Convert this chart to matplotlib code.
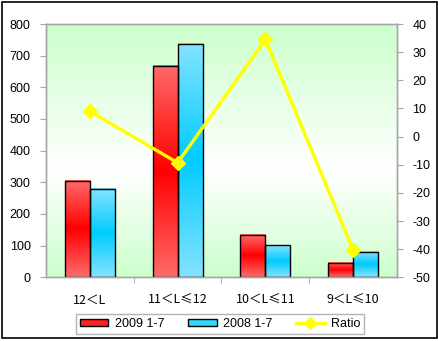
import matplotlib
matplotlib.use('Agg')
import matplotlib.pyplot as plt
import numpy as np
from matplotlib.colors import LinearSegmentedColormap
from matplotlib.patches import Rectangle, Patch
from matplotlib.lines import Line2D

plt.rcParams['axes.unicode_minus'] = False
plt.rcParams['font.family'] = ['Liberation Sans', 'DejaVu Sans']

categories = ['12＜L', '11＜L≤12', '10＜L≤11', '9＜L≤10']
sales_2009 = [305, 668, 134, 46]
sales_2008 = [280, 736, 101, 79]
ratio = [9.0, -9.3, 34.5, -40.2]
left_ticks = [0, 100, 200, 300, 400, 500, 600, 700, 800]
right_ticks = [-50, -40, -30, -20, -10, 0, 10, 20, 30, 40]
series_names = ['2009 1-7', '2008 1-7', 'Ratio']

fig = plt.figure(figsize=(4.39, 3.41), dpi=100)
ax = fig.add_axes([0.1048, 0.1868, 0.7995, 0.7428])
ax2 = ax.twinx()

# background gradient: green -> white -> green
bg_cmap = LinearSegmentedColormap.from_list(
    'bg', [(0.0, '#ccffcc'), (0.42, '#ffffff'), (1.0, '#ccffcc')])
grad = np.linspace(0, 1, 256).reshape(-1, 1)
ax.imshow(grad, cmap=bg_cmap, aspect='auto', extent=(0, 1, 1, 0),
          transform=ax.transAxes, zorder=0, interpolation='bicubic')

red_cmap = LinearSegmentedColormap.from_list(
    'r', [(0.0, '#ff6a6a'), (0.5, '#ff0000'), (1.0, '#ff6a6a')])
blue_cmap = LinearSegmentedColormap.from_list(
    'b', [(0.0, '#85e3ff'), (0.5, '#00ccff'), (1.0, '#85e3ff')])

x = np.arange(len(categories))
w = 0.285

def grad_bars(xs, vals, cmap):
    bars = ax.bar(xs, vals, width=w, align='edge', facecolor='none',
                  edgecolor='black', linewidth=1.0, zorder=3)
    for b in bars:
        x0, y0 = b.get_x(), b.get_y()
        ax.imshow(grad, cmap=cmap, aspect='auto',
                  extent=(x0, x0 + b.get_width(), y0 + b.get_height(), y0),
                  zorder=2, interpolation='bicubic')
    return bars

grad_bars(x - w, sales_2009, red_cmap)
grad_bars(x, sales_2008, blue_cmap)

ax.set_xlim(-0.5, len(categories) - 0.5)
ax.set_ylim(0, 800)
ax.set_yticks(left_ticks)
ax.set_xticks(x)
ax.set_xticklabels(categories, fontsize=9, family=['Noto Sans CJK SC', 'DejaVu Sans'])
ax.set_xticks(np.arange(0.5, len(categories) - 0.5, 1.0), minor=True)
ax.tick_params(axis='x', which='major', length=0, pad=12)
ax.tick_params(axis='x', which='minor', length=4, color='#a6a6a6', direction='out')
ax.tick_params(axis='y', length=4, color='#a6a6a6', direction='out', labelsize=9, pad=7)

ax2.plot(x, ratio, color='#ffff00', linewidth=2.4, marker='D', markersize=7,
         markerfacecolor='#ffff00', markeredgecolor='#ffff00', zorder=5)
ax2.set_ylim(-50, 40)
ax2.set_yticks(right_ticks)
ax2.tick_params(axis='y', length=4, color='#a6a6a6', direction='out', labelsize=9, pad=7)

for a in (ax, ax2):
    for s in a.spines.values():
        s.set_color('#a6a6a6')
        s.set_linewidth(1.0)

handles = [Patch(facecolor='#ff2020', edgecolor='black', linewidth=1.0),
           Patch(facecolor='#33d6ff', edgecolor='black', linewidth=1.0),
           Line2D([0], [0], color='#ffff00', linewidth=2.4, marker='D',
                  markersize=6, markerfacecolor='#ffff00', markeredgecolor='#ffff00')]
leg = fig.legend(handles, series_names, loc='center', bbox_to_anchor=(0.501, 0.0499),
                 ncol=3, fontsize=9, frameon=True, fancybox=False, edgecolor='#a0a0a0',
                 handlelength=2.3, handleheight=0.5, columnspacing=1.9,
                 handletextpad=0.5, borderpad=0.3)
leg.get_frame().set_linewidth(1.0)

fig.patches.append(Rectangle((0.0046, 0.0088), 0.991, 0.985, transform=fig.transFigure,
                             fill=False, edgecolor='black', linewidth=1.2))

fig.savefig('out.png', dpi=100)
